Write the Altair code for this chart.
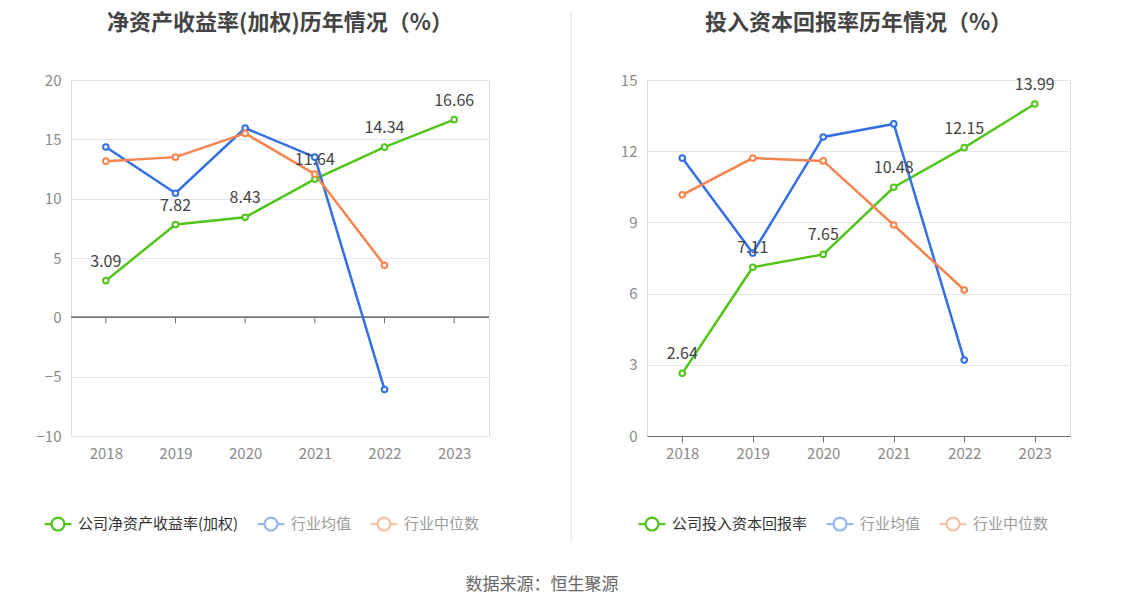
import altair as alt
import pandas as pd

years = ["2018", "2019", "2020", "2021", "2022", "2023"]

# Left panel: ROE (weighted)
roe_company = [3.09, 7.82, 8.43, 11.64, 14.34, 16.66]
roe_mean = [14.35, 10.46, 15.95, 13.5, -6.08, None]
roe_median = [13.16, 13.5, 15.5, 12.07, 4.39, None]

# Right panel: ROIC
roic_company = [2.64, 7.11, 7.65, 10.48, 12.15, 13.99]
roic_mean = [11.71, 7.71, 12.6, 13.15, 3.2, None]
roic_median = [10.16, 11.71, 11.59, 8.89, 6.15, None]

left_names = ["公司净资产收益率(加权)", "行业均值", "行业中位数"]
right_names = ["公司投入资本回报率", "行业均值", "行业中位数"]
colors = ["#52c41a", "#3470e4", "#f7834f"]

FONT = "Noto Sans CJK SC"
SYMBOL = "M-1,0 L-0.48,0 M1,0 L0.48,0 M0.48,0 A0.48,0.48 0 1 1 -0.48,0 A0.48,0.48 0 1 1 0.48,0"


def make_df(names, series):
    rows = []
    for name, vals in zip(names, series):
        for y, v in zip(years, vals):
            if v is not None:
                rows.append({"year": y, "value": v, "series": name})
    return pd.DataFrame(rows)


def panel(names, series, title, domain, ticks, width, legend_x, zero_line, sep_opacity):
    df = make_df(names, series)
    main = names[0]
    xscale = alt.Scale(type="point", padding=0.5, domain=years)
    yscale = alt.Scale(domain=domain, nice=False, zero=False)
    if zero_line:
        xaxis = alt.Axis(title=None, domain=False, ticks=False, labelAngle=0, labelPadding=10,
                         labelFontSize=15, labelColor="#8a8a8a", labelFont=FONT, grid=False)
    else:
        xaxis = alt.Axis(title=None, domain=True, domainColor="#6e7079", ticks=True, tickColor="#6e7079",
                         tickSize=6, labelAngle=0, labelPadding=4,
                         labelFontSize=15, labelColor="#8a8a8a", labelFont=FONT, grid=False)
    yaxis = alt.Axis(title=None, values=ticks, domain=False, ticks=False, labelPadding=10,
                     labelFontSize=15, labelColor="#8a8a8a", labelFont=FONT, grid=True,
                     gridColor="#e0e6f1", minExtent=57)
    legend = alt.Legend(
        orient="none", legendX=legend_x, legendY=429, direction="horizontal", title=None,
        symbolType=SYMBOL, symbolSize=720, symbolStrokeWidth=2.2, symbolFillColor="white",
        labelFontSize=15, labelFont=FONT, columnPadding=14, labelOffset=5, labelLimit=400,
        labelColor=alt.ExprRef(expr="datum.value === '%s' ? '#333333' : '#999999'" % main),
        symbolOpacity=alt.ExprRef(expr="datum.value === '%s' ? 1 : 0.5" % main),
    )
    color = alt.Color("series:N", scale=alt.Scale(domain=names, range=colors), legend=legend)
    base = alt.Chart(df).encode(
        x=alt.X("year:O", scale=xscale, axis=xaxis),
        y=alt.Y("value:Q", scale=yscale, axis=yaxis),
    )
    layers = []
    # thin vertical separator (visible only on the left panel, at its right side)
    layers.append(alt.Chart(df).mark_rule(color="#eeeeee", strokeWidth=1, opacity=sep_opacity).encode(
        x=alt.value(500 if sep_opacity > 0 else 0), y=alt.value(-69), y2=alt.value(462)))
    if zero_line:
        zdf = pd.DataFrame({"year": years, "z": [0] * 6, "z2": [-0.5] * 6})
        zb = alt.Chart(zdf).encode(x=alt.X("year:O", scale=xscale, axis=xaxis))
        layers.append(zb.mark_rule(color="#6e7079", strokeWidth=1).encode(
            y=alt.Y("z:Q", scale=yscale, axis=yaxis), y2="z2:Q"))
        layers.append(alt.Chart(zdf).mark_rule(color="#6e7079", strokeWidth=1).encode(
            y=alt.Y("z:Q", scale=yscale, axis=yaxis)))
    layers.append(base.mark_line(strokeWidth=2.5).encode(color=color))
    layers.append(base.mark_point(filled=True, fill="white", size=32, strokeWidth=2, opacity=1).encode(
        stroke=alt.Stroke("series:N", scale=alt.Scale(domain=names, range=colors), legend=None)))
    layers.append(base.mark_text(dy=-19, fontSize=16, color="#444444", font=FONT).encode(
        text=alt.Text("value:Q", format=".2f")).transform_filter(alt.datum.series == main))
    return alt.layer(*layers).resolve_scale(color="independent", stroke="independent").properties(
        width=width, height=356,
        title=alt.TitleParams(title, fontSize=22, fontWeight="bold", color="#444444", font=FONT,
                              anchor="middle", offset=-24),
    )


left = panel(left_names, [roe_company, roe_mean, roe_median], "净资产收益率(加权)历年情况（%）",
             [-10, 20], [-10, -5, 0, 5, 10, 15, 20], 418, -28, True, 1)
right = panel(right_names, [roic_company, roic_mean, roic_median], "投入资本回报率历年情况（%）",
              [0, 15], [0, 3, 6, 9, 12, 15], 423, -10, False, 0)

chart = alt.hconcat(left, right, spacing=17).properties(
    padding={"left": 5, "top": 2, "right": 5, "bottom": 5},
    title=alt.TitleParams("数据来源：恒生聚源", orient="bottom", anchor="middle", fontSize=17,
                          fontWeight="normal", color="#666666", font=FONT, offset=34),
).configure_view(stroke=None).configure(background="white")

chart.save("out.html", embed_options={"renderer": "svg", "actions": False})
